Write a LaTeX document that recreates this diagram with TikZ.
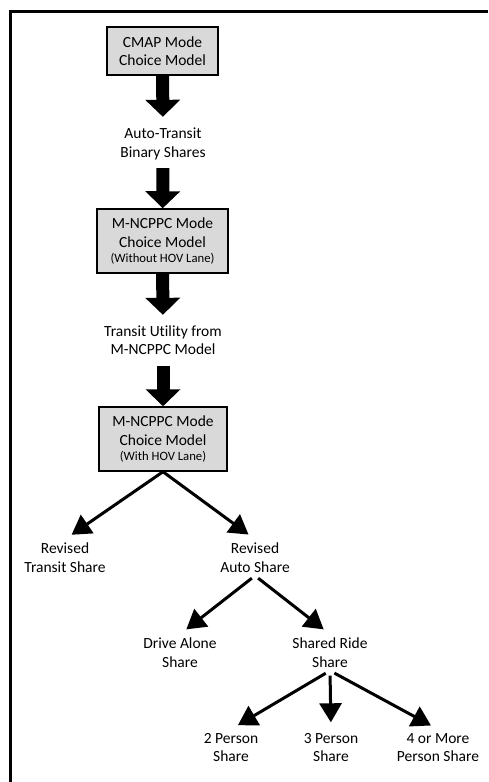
\documentclass[tikz,border=0pt]{standalone}
\usepackage{fontspec}
\setmainfont{Carlito}[Ligatures=NoCommon]
\usepackage{tikz}
\usetikzlibrary{arrows.meta,positioning,calc}

\begin{document}
\begin{tikzpicture}[x=1pt,y=-1pt,
  model/.style={draw=black,line width=1.5pt,fill=black!15,align=center,inner sep=0pt,
    font=\fontsize{15.5}{18.5}\selectfont},
  share/.style={align=center,inner sep=0pt,minimum height=36pt,
    font=\fontsize{15.5}{18.5}\selectfont},
  bigarrow/.style={line width=13pt,-{Triangle[length=17pt,width=34pt]},shorten <=0pt},
  thinarrow/.style={line width=3pt,-{Triangle[length=19pt,width=22pt]}}]

\useasboundingbox (0,0) rectangle (488,782);
% frame
\draw[line width=3pt] (10.5,782) -- (10.5,11.5) -- (488,11.5);

% node boxes
\node[model,name=cmap,minimum width=111pt,minimum height=48pt] at (162.5,51) {CMAP Mode\\Choice Model};
\node[share,name=binshr] at (163,144) {Auto-Transit\\Binary Shares};
\node[model,name=ncwo,minimum width=131pt,minimum height=64pt] at (162.5,241)
  {M-NCPPC Mode\\Choice Model\\[-3pt]{\fontsize{12.7}{15}\selectfont (Without HOV Lane)}};
\node[share,name=trutil] at (163,340) {Transit Utility from\\M-NCPPC Model};
\node[model,name=ncw,minimum width=128pt,minimum height=64pt] at (163,439)
  {M-NCPPC Mode\\Choice Model\\[-3pt]{\fontsize{12.7}{15}\selectfont (With HOV Lane)}};

% share nodes
\node[share,name=revtr] at (65,557.5) {Revised\\Transit Share};
\node[share,name=revau] at (255,557.5) {Revised\\Auto Share};
\node[share,name=drive] at (180,652.5) {Drive Alone\\Share};
\node[share,name=shride] at (330,652.5) {Shared Ride\\Share};
\node[share,name=twop] at (231,747.5) {2 Person\\Share};
\node[share,name=threep] at (331,747.5) {3 Person\\Share};
\node[share,name=fourp] at (438,747.5) {4 or More\\Person Share};

% connections
\draw[bigarrow,shorten >=9pt] (cmap) -- (binshr);
\draw[bigarrow,shorten <=6pt] (binshr) -- (ncwo);
\draw[bigarrow,shorten >=7pt] (ncwo) -- (trutil);
\draw[bigarrow,shorten <=8pt] (trutil) -- (ncw);

\draw[thinarrow,shorten >=8pt] (ncw.south) -- (revtr.north);
\draw[thinarrow,shorten >=8pt] (ncw.south) -- (revau.north);
\draw[thinarrow,shorten <=4pt,shorten >=8pt] (revau.south) -- (drive.north);
\draw[thinarrow,shorten <=4pt,shorten >=8pt] (revau.south) -- (shride.north);
\draw[thinarrow,shorten <=5pt,shorten >=8pt] (shride.south) -- (twop.north);
\draw[thinarrow,shorten <=5pt,shorten >=7pt] (shride.south) -- (threep.north);
\draw[thinarrow,shorten <=5pt,shorten >=8pt] (shride.south) -- (fourp.north);

\end{tikzpicture}
\end{document}
